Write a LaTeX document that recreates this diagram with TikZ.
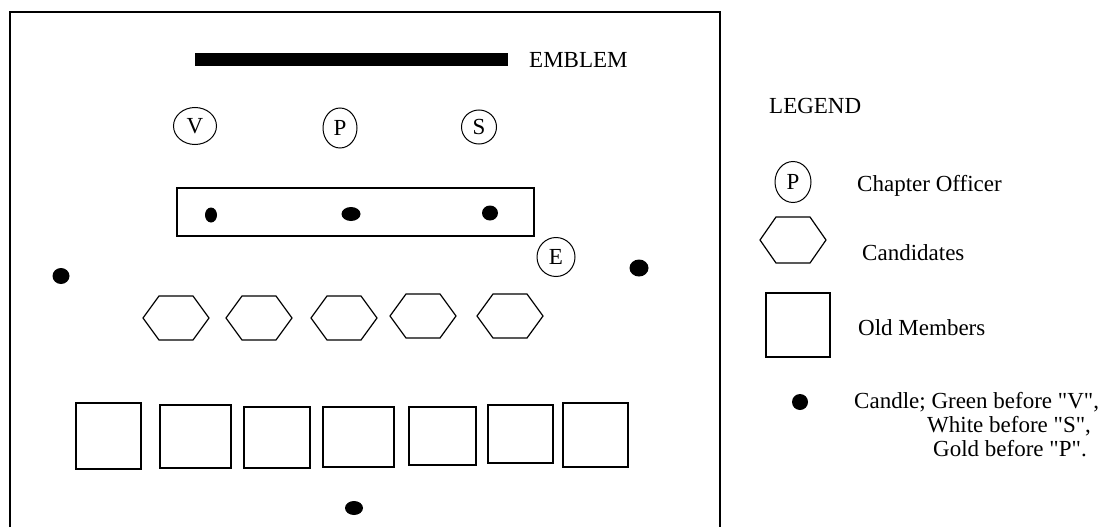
\documentclass[tikz,border=0pt]{standalone}
\usepackage{fontspec}
\setmainfont{Liberation Serif}[Ligatures=TeXOff]
\usetikzlibrary{shapes.geometric}

\begin{document}
\begin{tikzpicture}[x=1pt, y=-1pt, font=\fontsize{23}{27}\selectfont]
  \useasboundingbox (0,0) rectangle (1102,527);
  \tikzstyle{officer}=[ellipse, draw, line width=1pt, inner sep=0pt]
  \tikzstyle{candle}=[ellipse, fill=black, inner sep=0pt]
  \tikzstyle{cand}=[line width=1.2pt, line join=miter]
  \tikzstyle{member}=[draw, line width=1.5pt, inner sep=0pt]
  \tikzstyle{txt}=[anchor=base west, inner sep=0pt]

  % room outline (bottom edge runs off the page)
  \draw[line width=2pt] (10,527) -- (10,12) -- (720,12) -- (720,527);

  % emblem
  \node[fill=black, minimum width=313pt, minimum height=13pt, inner sep=0pt] (emblem) at (351.5,59.5) {};
  \node[txt] (emblemlbl) at (529,67) {EMBLEM};

  % officers
  \node[officer, minimum width=43pt, minimum height=37pt] (V) at (195,126) {V};
  \node[officer, minimum width=34pt, minimum height=40pt] (P) at (340,128) {P};
  \node[officer, minimum width=35pt, minimum height=34pt] (S) at (479,127) {S};
  \node[officer, minimum width=38pt, minimum height=39pt] (E) at (556,257) {E};

  % altar and its candles
  \node[member, minimum width=357pt, minimum height=48pt] (altar) at (355.5,212) {};
  \node[candle, minimum width=12pt, minimum height=15pt] (candleV) at (211,215) {};
  \node[candle, minimum width=19pt, minimum height=14pt] (candleP) at (351,214) {};
  \node[candle, minimum width=16pt, minimum height=15pt] (candleS) at (490,213) {};

  % side and floor candles
  \node[candle, minimum width=17pt, minimum height=16pt] (candleL) at (61,276) {};
  \node[candle, minimum width=19pt, minimum height=17pt] (candleR) at (639,268) {};
  \node[candle, minimum width=18pt, minimum height=14pt] (candleB) at (354,508) {};

  % candidates
  \foreach \x/\y in {176/318, 259/318, 344/318, 423/316, 510/316}
    \draw[cand] (\x,\y) ++(-33,0) -- ++(16,-22) -- ++(34,0) -- ++(16,22)
      -- ++(-16,22) -- ++(-34,0) -- cycle;

  % old members
  \foreach \a/\b/\c/\d in {76/403/141/469, 160/405/231/468, 244/407/310/468,
      323/407/394/467, 409/407/476/465, 488/405/553/463, 563/403/628/467}
    \draw[line width=1.5pt] (\a,\b) rectangle (\c,\d);

  % legend
  \node[txt] (legend) at (769,113) {LEGEND};
  \node[officer, minimum width=36pt, minimum height=41pt] (legP) at (793,182) {P};
  \node[txt] (legPlbl) at (857,191) {Chapter Officer};
  \draw[cand] (793,240) ++(-33,0) -- ++(16,-23) -- ++(34,0) -- ++(16,23)
    -- ++(-16,23) -- ++(-34,0) -- cycle;
  \node[txt] (legClbl) at (862,260) {Candidates};
  \node[member, minimum width=64pt, minimum height=64pt] (legM) at (798,325) {};
  \node[txt] (legMlbl) at (858,335) {Old Members};
  \node[candle, minimum width=16pt, minimum height=16pt] (legD) at (800,402) {};
  \node[txt] (legDa) at (854,408) {Candle; Green before "V",};
  \node[txt] (legDb) at (927,432) {White before "S",};
  \node[txt] (legDc) at (933,456) {Gold before "P".};
\end{tikzpicture}
\end{document}
